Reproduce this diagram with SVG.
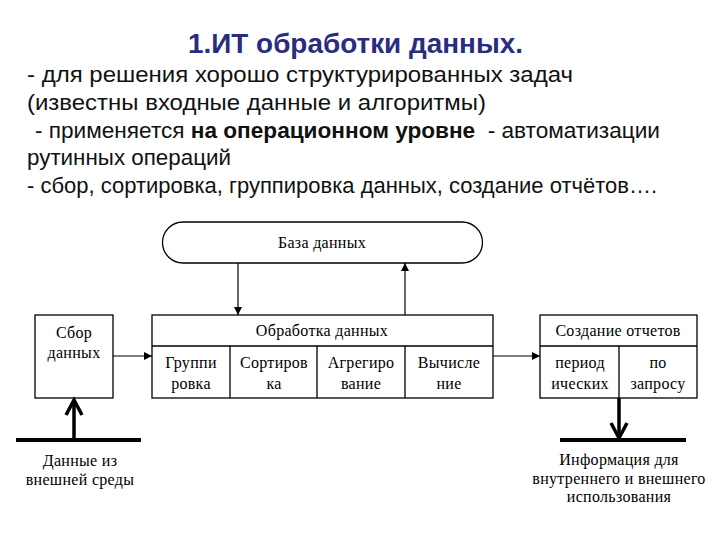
<svg xmlns="http://www.w3.org/2000/svg" width="720" height="540" viewBox="0 0 720 540">
<style>
.t{font-family:"Liberation Sans",Arial,sans-serif;font-size:22.5px;fill:#111}
.title{font-family:"Liberation Sans",Arial,sans-serif;font-size:28px;font-weight:bold;fill:#2a2c80}
.d{font-family:"Liberation Serif","Times New Roman",serif;font-size:16px;letter-spacing:0.3px;fill:#000;text-anchor:middle}
.box{fill:#fff;stroke:#000;stroke-width:1.3}
.ln{fill:none;stroke:#000;stroke-width:1.3}
.thin{fill:none;stroke:#000;stroke-width:1.2}
.thick{fill:none;stroke:#000;stroke-width:4}
.varr{fill:none;stroke:#000;stroke-width:3.5}
</style>
<defs>
<marker id="ah" viewBox="0 0 10 10" refX="10" refY="5" markerWidth="8" markerHeight="8" markerUnits="userSpaceOnUse" orient="auto">
<path d="M0,0 L10,5 L0,10 Z" fill="#000"/>
</marker>
</defs>
<rect width="720" height="540" fill="#fff"/>
<g id="text">
<text class="title" x="355.5" y="53" text-anchor="middle" textLength="335" lengthAdjust="spacingAndGlyphs">1.ИТ обработки данных.</text>
<text class="t" x="27" y="82" textLength="546" lengthAdjust="spacingAndGlyphs">- для решения хорошо структурированных задач</text>
<text class="t" x="27" y="110" textLength="459" lengthAdjust="spacingAndGlyphs">(известны входные данные и алгоритмы)</text>
<text class="t" x="35" y="138" xml:space="preserve" textLength="625" lengthAdjust="spacingAndGlyphs">- применяется <tspan font-weight="bold">на операционном уровне</tspan>  - автоматизации</text>
<text class="t" x="27" y="165" textLength="204" lengthAdjust="spacingAndGlyphs">рутинных операций</text>
<text class="t" x="27" y="193" textLength="630" lengthAdjust="spacingAndGlyphs">- сбор, сортировка, группировка данных, создание отчётов….</text>
</g>
<g id="db">
<path class="box" d="M183,222 H462 A20.5,20.5 0 0 1 462,263 H183 A20.5,20.5 0 0 1 183,222 Z"/>
<text class="d" x="322" y="248">База данных</text>
</g>
<g id="collect">
<rect class="box" x="35" y="315" width="78" height="83"/>
<text class="d" x="74" y="338">Сбор</text>
<text class="d" x="74" y="358">данных</text>
</g>
<g id="processing">
<rect class="box" x="152" y="315" width="341" height="83"/>
<line class="ln" x1="152" y1="346" x2="493" y2="346"/>
<line class="ln" x1="230" y1="346" x2="230" y2="398"/>
<line class="ln" x1="317" y1="346" x2="317" y2="398"/>
<line class="ln" x1="405" y1="346" x2="405" y2="398"/>
<text class="d" x="322" y="336">Обработка данных</text>
<text class="d" x="191" y="368">Группи</text>
<text class="d" x="191" y="389">ровка</text>
<text class="d" x="274" y="368">Сортиров</text>
<text class="d" x="274" y="389">ка</text>
<text class="d" x="361" y="368">Агрегиро</text>
<text class="d" x="361" y="389">вание</text>
<text class="d" x="449" y="368">Вычисле</text>
<text class="d" x="449" y="389">ние</text>
</g>
<g id="reports">
<rect class="box" x="540" y="315" width="157" height="83"/>
<line class="ln" x1="540" y1="346" x2="697" y2="346"/>
<line class="ln" x1="619" y1="346" x2="619" y2="398"/>
<text class="d" x="618" y="336">Создание отчетов</text>
<text class="d" x="580" y="368">период</text>
<text class="d" x="580" y="389">ических</text>
<text class="d" x="658" y="368">по</text>
<text class="d" x="658" y="389">запросу</text>
</g>
<g id="external-in">
<line class="thick" x1="16" y1="440" x2="141" y2="440"/>
<text class="d" x="80" y="466">Данные из</text>
<text class="d" x="80" y="485">внешней среды</text>
</g>
<g id="external-out">
<line class="thick" x1="560" y1="440" x2="686" y2="440"/>
<text class="d" x="619" y="465">Информация для</text>
<text class="d" x="619" y="484">внутреннего и внешнего</text>
<text class="d" x="619" y="502">использования</text>
</g>
<g id="connectors">
<line class="thin" x1="238" y1="263" x2="238" y2="315" marker-end="url(#ah)"/>
<line class="thin" x1="405" y1="315" x2="405" y2="263" marker-end="url(#ah)"/>
<line class="thin" x1="113" y1="356" x2="152" y2="356" marker-end="url(#ah)"/>
<line class="thin" x1="493" y1="356" x2="540" y2="356" marker-end="url(#ah)"/>
<line class="varr" x1="74" y1="440" x2="74" y2="400"/>
<path class="varr" d="M66,415 L74,400 L82,415"/>
<line class="varr" x1="619" y1="398" x2="619" y2="438"/>
<path class="varr" d="M611,423 L619,438 L627,423"/>
</g>
</svg>
